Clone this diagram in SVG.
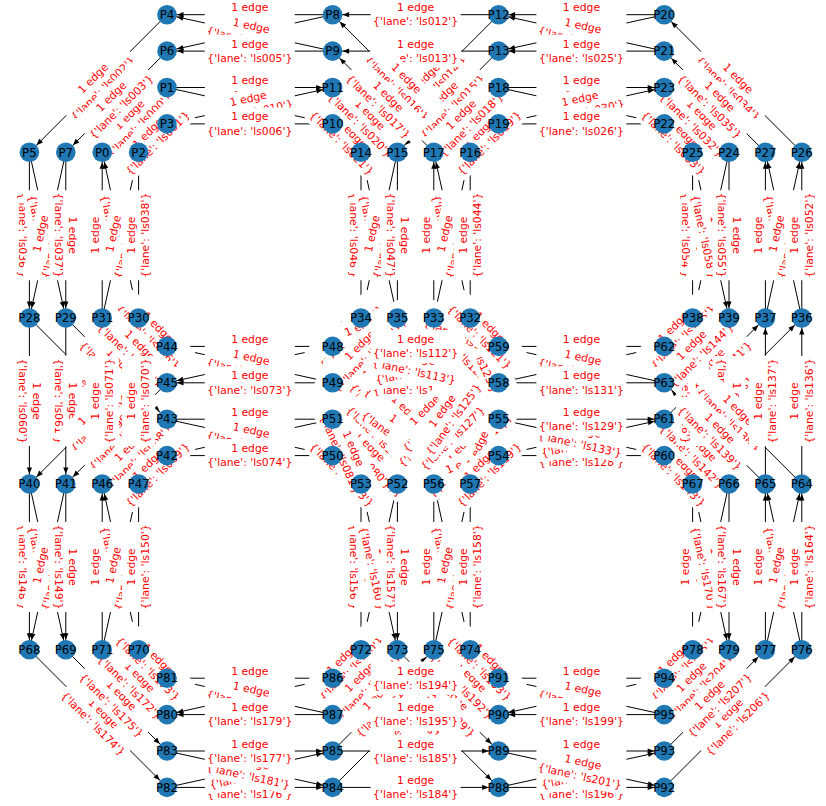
<svg xmlns="http://www.w3.org/2000/svg" width="826" height="806" viewBox="0 0 826 806">
<style>
#edges path{stroke:#000;stroke-width:1;fill:none;marker-end:url(#ah)}
.n circle{fill:#1f78b4}
.n text{font-family:"DejaVu Sans",sans-serif;font-size:11.8px;fill:#000;text-anchor:middle}
.l text{font-family:"DejaVu Sans",sans-serif;font-size:10.8px;fill:#ff0000;text-anchor:middle}
</style>
<defs>
<marker id="ah" markerUnits="userSpaceOnUse" orient="auto" markerWidth="20" markerHeight="20" refX="0" refY="0" overflow="visible"><path d="M-10 0L-16.5-2.6L-16.5 2.6Z" fill="#000"/></marker>
<rect id="bx" x="-45" y="-16.5" width="90" height="33" rx="3.5" fill="#fff"/>
</defs>
<rect width="826" height="806" fill="#fff"/>
<g id="edges">
<path d="M102.2 152.3L167 87.5"/><path d="M167 87.5L332.6 87.5"/><path d="M167 87.5L332.6 123.9"/><path d="M138.6 152.3L167 123.9"/><path d="M167 123.9L332.6 123.9"/><path d="M167 123.9L332.6 87.5"/><path d="M167 14.7L29.4 152.3"/><path d="M29.4 152.3L29.4 318"/><path d="M29.4 152.3L65.8 318"/><path d="M167 51.1L65.8 152.3"/><path d="M65.8 152.3L65.8 318"/><path d="M65.8 152.3L29.4 318"/><path d="M332.6 14.7L167 14.7"/><path d="M332.6 14.7L167 51.1"/><path d="M332.6 51.1L167 51.1"/><path d="M332.6 51.1L167 14.7"/><path d="M332.6 123.9L361 152.3"/><path d="M332.6 123.9L498.6 123.9"/><path d="M332.6 87.5L397.4 152.3"/><path d="M332.6 87.5L498.6 87.5"/><path d="M498.6 14.7L332.6 14.7"/><path d="M498.6 14.7L361 152.3"/><path d="M498.6 51.1L332.6 51.1"/><path d="M498.6 51.1L397.4 152.3"/><path d="M361 152.3L361 318"/><path d="M361 152.3L397.4 318"/><path d="M397.4 152.3L397.4 318"/><path d="M397.4 152.3L361 318"/><path d="M470.2 152.3L332.6 14.7"/><path d="M470.2 152.3L498.6 123.9"/><path d="M433.8 152.3L332.6 51.1"/><path d="M433.8 152.3L498.6 87.5"/><path d="M498.6 87.5L664.2 87.5"/><path d="M498.6 87.5L664.2 123.9"/><path d="M498.6 123.9L664.2 123.9"/><path d="M498.6 123.9L664.2 87.5"/><path d="M664.2 14.7L498.6 14.7"/><path d="M664.2 14.7L498.6 51.1"/><path d="M664.2 51.1L498.6 51.1"/><path d="M664.2 51.1L498.6 14.7"/><path d="M664.2 123.9L692.6 152.3"/><path d="M664.2 87.5L729 152.3"/><path d="M729 152.3L729 318"/><path d="M729 152.3L692.6 318"/><path d="M692.6 152.3L692.6 318"/><path d="M692.6 152.3L729 318"/><path d="M801.8 152.3L664.2 14.7"/><path d="M765.4 152.3L664.2 51.1"/><path d="M29.4 318L29.4 484"/><path d="M29.4 318L167 455.6"/><path d="M65.8 318L65.8 484"/><path d="M65.8 318L167 419.2"/><path d="M138.6 318L138.6 152.3"/><path d="M138.6 318L102.2 152.3"/><path d="M102.2 318L102.2 152.3"/><path d="M102.2 318L138.6 152.3"/><path d="M470.2 318L470.2 152.3"/><path d="M470.2 318L433.8 152.3"/><path d="M433.8 318L433.8 152.3"/><path d="M433.8 318L470.2 152.3"/><path d="M361 318L361 484"/><path d="M361 318L397.4 484"/><path d="M361 318L498.6 455.6"/><path d="M361 318L498.6 419.2"/><path d="M361 318L332.6 346.4"/><path d="M361 318L332.6 382.8"/><path d="M397.4 318L397.4 484"/><path d="M397.4 318L361 484"/><path d="M397.4 318L498.6 455.6"/><path d="M397.4 318L498.6 419.2"/><path d="M397.4 318L332.6 346.4"/><path d="M397.4 318L332.6 382.8"/><path d="M801.8 318L801.8 152.3"/><path d="M801.8 318L765.4 152.3"/><path d="M765.4 318L765.4 152.3"/><path d="M765.4 318L801.8 152.3"/><path d="M692.6 318L664.2 346.4"/><path d="M692.6 318L692.6 484"/><path d="M729 318L664.2 382.8"/><path d="M729 318L729 484"/><path d="M29.4 484L29.4 649.8"/><path d="M29.4 484L65.8 649.8"/><path d="M65.8 484L65.8 649.8"/><path d="M65.8 484L29.4 649.8"/><path d="M167 455.6L332.6 455.6"/><path d="M167 455.6L332.6 419.2"/><path d="M167 419.2L332.6 419.2"/><path d="M167 419.2L332.6 455.6"/><path d="M167 346.4L29.4 484"/><path d="M167 346.4L138.6 318"/><path d="M167 382.8L65.8 484"/><path d="M167 382.8L102.2 318"/><path d="M102.2 484L167 419.2"/><path d="M102.2 484L102.2 318"/><path d="M138.6 484L167 455.6"/><path d="M138.6 484L138.6 318"/><path d="M332.6 346.4L167 346.4"/><path d="M332.6 346.4L167 382.8"/><path d="M332.6 382.8L167 382.8"/><path d="M332.6 382.8L167 346.4"/><path d="M332.6 455.6L397.4 484"/><path d="M332.6 455.6L361 484"/><path d="M332.6 455.6L498.6 455.6"/><path d="M332.6 455.6L498.6 419.2"/><path d="M332.6 455.6L433.8 318"/><path d="M332.6 455.6L470.2 318"/><path d="M332.6 419.2L397.4 484"/><path d="M332.6 419.2L361 484"/><path d="M332.6 419.2L498.6 419.2"/><path d="M332.6 419.2L498.6 455.6"/><path d="M332.6 419.2L433.8 318"/><path d="M332.6 419.2L470.2 318"/><path d="M397.4 484L397.4 649.8"/><path d="M397.4 484L361 649.8"/><path d="M361 484L361 649.8"/><path d="M361 484L397.4 649.8"/><path d="M498.6 455.6L664.2 455.6"/><path d="M498.6 455.6L664.2 419.2"/><path d="M498.6 419.2L664.2 419.2"/><path d="M498.6 419.2L664.2 455.6"/><path d="M433.8 484L433.8 318"/><path d="M433.8 484L470.2 318"/><path d="M433.8 484L332.6 346.4"/><path d="M433.8 484L332.6 382.8"/><path d="M433.8 484L498.6 419.2"/><path d="M433.8 484L498.6 455.6"/><path d="M470.2 484L470.2 318"/><path d="M470.2 484L433.8 318"/><path d="M470.2 484L332.6 346.4"/><path d="M470.2 484L332.6 382.8"/><path d="M470.2 484L498.6 419.2"/><path d="M470.2 484L498.6 455.6"/><path d="M498.6 382.8L332.6 346.4"/><path d="M498.6 382.8L332.6 382.8"/><path d="M498.6 382.8L433.8 318"/><path d="M498.6 382.8L470.2 318"/><path d="M498.6 382.8L361 484"/><path d="M498.6 382.8L397.4 484"/><path d="M498.6 346.4L332.6 346.4"/><path d="M498.6 346.4L332.6 382.8"/><path d="M498.6 346.4L433.8 318"/><path d="M498.6 346.4L470.2 318"/><path d="M498.6 346.4L361 484"/><path d="M498.6 346.4L397.4 484"/><path d="M664.2 455.6L801.8 318"/><path d="M664.2 455.6L692.6 484"/><path d="M664.2 419.2L765.4 318"/><path d="M664.2 419.2L729 484"/><path d="M664.2 346.4L498.6 346.4"/><path d="M664.2 346.4L498.6 382.8"/><path d="M664.2 382.8L498.6 382.8"/><path d="M664.2 382.8L498.6 346.4"/><path d="M801.8 484L801.8 318"/><path d="M801.8 484L664.2 346.4"/><path d="M765.4 484L765.4 318"/><path d="M765.4 484L664.2 382.8"/><path d="M729 484L729 649.8"/><path d="M729 484L692.6 649.8"/><path d="M692.6 484L692.6 649.8"/><path d="M692.6 484L729 649.8"/><path d="M29.4 649.8L167 787.4"/><path d="M65.8 649.8L167 751"/><path d="M138.6 649.8L138.6 484"/><path d="M138.6 649.8L102.2 484"/><path d="M102.2 649.8L102.2 484"/><path d="M102.2 649.8L138.6 484"/><path d="M361 649.8L498.6 787.4"/><path d="M361 649.8L332.6 678.2"/><path d="M397.4 649.8L498.6 751"/><path d="M397.4 649.8L332.6 714.6"/><path d="M470.2 649.8L470.2 484"/><path d="M470.2 649.8L433.8 484"/><path d="M433.8 649.8L433.8 484"/><path d="M433.8 649.8L470.2 484"/><path d="M801.8 649.8L801.8 484"/><path d="M801.8 649.8L765.4 484"/><path d="M765.4 649.8L765.4 484"/><path d="M765.4 649.8L801.8 484"/><path d="M692.6 649.8L664.2 678.2"/><path d="M729 649.8L664.2 714.6"/><path d="M167 714.6L102.2 649.8"/><path d="M167 678.2L138.6 649.8"/><path d="M167 787.4L332.6 787.4"/><path d="M167 787.4L332.6 751"/><path d="M167 751L332.6 751"/><path d="M167 751L332.6 787.4"/><path d="M332.6 787.4L498.6 787.4"/><path d="M332.6 787.4L470.2 649.8"/><path d="M332.6 751L498.6 751"/><path d="M332.6 751L433.8 649.8"/><path d="M332.6 678.2L167 678.2"/><path d="M332.6 678.2L167 714.6"/><path d="M332.6 714.6L167 714.6"/><path d="M332.6 714.6L167 678.2"/><path d="M498.6 787.4L664.2 787.4"/><path d="M498.6 787.4L664.2 751"/><path d="M498.6 751L664.2 751"/><path d="M498.6 751L664.2 787.4"/><path d="M498.6 714.6L433.8 649.8"/><path d="M498.6 714.6L332.6 714.6"/><path d="M498.6 678.2L470.2 649.8"/><path d="M498.6 678.2L332.6 678.2"/><path d="M664.2 787.4L801.8 649.8"/><path d="M664.2 751L765.4 649.8"/><path d="M664.2 678.2L498.6 678.2"/><path d="M664.2 678.2L498.6 714.6"/><path d="M664.2 714.6L498.6 714.6"/><path d="M664.2 714.6L498.6 678.2"/>
</g>
<g id="edge-labels" class="l">
<g transform="translate(134.6 119.9)rotate(-45)"><use href="#bx"/><text y="-3.5">1 edge</text><text y="10.8">{'lane': 'ls000'}</text></g>
<g transform="translate(152.8 138.1)rotate(-45)"><use href="#bx"/><text y="-3.5">1 edge</text><text y="10.8">{'lane': 'ls001'}</text></g>
<g transform="translate(98.2 83.5)rotate(-45)"><use href="#bx"/><text y="-3.5">1 edge</text><text y="10.8">{'lane': 'ls002'}</text></g>
<g transform="translate(116.4 101.7)rotate(-45)"><use href="#bx"/><text y="-3.5">1 edge</text><text y="10.8">{'lane': 'ls003'}</text></g>
<g transform="translate(346.8 138.1)rotate(45)"><use href="#bx"/><text y="-3.5">1 edge</text><text y="10.8">{'lane': 'ls021'}</text></g>
<g transform="translate(415.6 123.9)"><use href="#bx"/><text y="-3.5">1 edge</text><text y="10.8">{'lane': 'ls023'}</text></g>
<g transform="translate(365 119.9)rotate(45)"><use href="#bx"/><text y="-3.5">1 edge</text><text y="10.8">{'lane': 'ls020'}</text></g>
<g transform="translate(415.6 87.5)"><use href="#bx"/><text y="-3.5">1 edge</text><text y="10.8">{'lane': 'ls022'}</text></g>
<g transform="translate(415.6 14.7)"><use href="#bx"/><text y="-3.5">1 edge</text><text y="10.8">{'lane': 'ls012'}</text></g>
<g transform="translate(429.8 83.5)rotate(-45)"><use href="#bx"/><text y="-3.5">1 edge</text><text y="10.8">{'lane': 'ls014'}</text></g>
<g transform="translate(415.6 51.1)"><use href="#bx"/><text y="-3.5">1 edge</text><text y="10.8">{'lane': 'ls013'}</text></g>
<g transform="translate(448 101.7)rotate(-45)"><use href="#bx"/><text y="-3.5">1 edge</text><text y="10.8">{'lane': 'ls015'}</text></g>
<g transform="translate(401.4 83.5)rotate(45)"><use href="#bx"/><text y="-3.5">1 edge</text><text y="10.8">{'lane': 'ls016'}</text></g>
<g transform="translate(484.4 138.1)rotate(-45)"><use href="#bx"/><text y="-3.5">1 edge</text><text y="10.8">{'lane': 'ls019'}</text></g>
<g transform="translate(383.2 101.7)rotate(45)"><use href="#bx"/><text y="-3.5">1 edge</text><text y="10.8">{'lane': 'ls017'}</text></g>
<g transform="translate(466.2 119.9)rotate(-45)"><use href="#bx"/><text y="-3.5">1 edge</text><text y="10.8">{'lane': 'ls018'}</text></g>
<g transform="translate(678.4 138.1)rotate(45)"><use href="#bx"/><text y="-3.5">1 edge</text><text y="10.8">{'lane': 'ls033'}</text></g>
<g transform="translate(696.6 119.9)rotate(45)"><use href="#bx"/><text y="-3.5">1 edge</text><text y="10.8">{'lane': 'ls032'}</text></g>
<g transform="translate(733 83.5)rotate(45)"><use href="#bx"/><text y="-3.5">1 edge</text><text y="10.8">{'lane': 'ls034'}</text></g>
<g transform="translate(714.8 101.7)rotate(45)"><use href="#bx"/><text y="-3.5">1 edge</text><text y="10.8">{'lane': 'ls035'}</text></g>
<g transform="translate(29.4 235.2)rotate(90)"><use href="#bx"/><text y="-3.5">1 edge</text><text y="10.8">{'lane': 'ls036'}</text></g>
<g transform="translate(102.2 235.2)rotate(-90)"><use href="#bx"/><text y="-3.5">1 edge</text><text y="10.8">{'lane': 'ls039'}</text></g>
<g transform="translate(47.6 235.2)rotate(77.6)"><use href="#bx"/><text y="-3.5">1 edge</text><text y="10.8">{'lane': 'ls040'}</text></g>
<g transform="translate(47.6 235.2)rotate(-77.6)"><use href="#bx"/><text y="-3.5">1 edge</text><text y="10.8">{'lane': 'ls041'}</text></g>
<g transform="translate(120.4 235.2)rotate(77.6)"><use href="#bx"/><text y="-3.5">1 edge</text><text y="10.8">{'lane': 'ls042'}</text></g>
<g transform="translate(120.4 235.2)rotate(-77.6)"><use href="#bx"/><text y="-3.5">1 edge</text><text y="10.8">{'lane': 'ls043'}</text></g>
<g transform="translate(65.8 235.2)rotate(90)"><use href="#bx"/><text y="-3.5">1 edge</text><text y="10.8">{'lane': 'ls037'}</text></g>
<g transform="translate(138.6 235.2)rotate(-90)"><use href="#bx"/><text y="-3.5">1 edge</text><text y="10.8">{'lane': 'ls038'}</text></g>
<g transform="translate(361 235.2)rotate(90)"><use href="#bx"/><text y="-3.5">1 edge</text><text y="10.8">{'lane': 'ls046'}</text></g>
<g transform="translate(433.8 235.2)rotate(-90)"><use href="#bx"/><text y="-3.5">1 edge</text><text y="10.8">{'lane': 'ls045'}</text></g>
<g transform="translate(379.2 235.2)rotate(77.6)"><use href="#bx"/><text y="-3.5">1 edge</text><text y="10.8">{'lane': 'ls050'}</text></g>
<g transform="translate(379.2 235.2)rotate(-77.6)"><use href="#bx"/><text y="-3.5">1 edge</text><text y="10.8">{'lane': 'ls051'}</text></g>
<g transform="translate(452 235.2)rotate(77.6)"><use href="#bx"/><text y="-3.5">1 edge</text><text y="10.8">{'lane': 'ls048'}</text></g>
<g transform="translate(452 235.2)rotate(-77.6)"><use href="#bx"/><text y="-3.5">1 edge</text><text y="10.8">{'lane': 'ls049'}</text></g>
<g transform="translate(397.4 235.2)rotate(90)"><use href="#bx"/><text y="-3.5">1 edge</text><text y="10.8">{'lane': 'ls047'}</text></g>
<g transform="translate(470.2 235.2)rotate(-90)"><use href="#bx"/><text y="-3.5">1 edge</text><text y="10.8">{'lane': 'ls044'}</text></g>
<g transform="translate(692.6 235.2)rotate(90)"><use href="#bx"/><text y="-3.5">1 edge</text><text y="10.8">{'lane': 'ls054'}</text></g>
<g transform="translate(765.4 235.2)rotate(-90)"><use href="#bx"/><text y="-3.5">1 edge</text><text y="10.8">{'lane': 'ls053'}</text></g>
<g transform="translate(710.8 235.2)rotate(-77.6)"><use href="#bx"/><text y="-3.5">1 edge</text><text y="10.8">{'lane': 'ls059'}</text></g>
<g transform="translate(710.8 235.2)rotate(77.6)"><use href="#bx"/><text y="-3.5">1 edge</text><text y="10.8">{'lane': 'ls058'}</text></g>
<g transform="translate(783.6 235.2)rotate(77.6)"><use href="#bx"/><text y="-3.5">1 edge</text><text y="10.8">{'lane': 'ls056'}</text></g>
<g transform="translate(783.6 235.2)rotate(-77.6)"><use href="#bx"/><text y="-3.5">1 edge</text><text y="10.8">{'lane': 'ls057'}</text></g>
<g transform="translate(729 235.2)rotate(90)"><use href="#bx"/><text y="-3.5">1 edge</text><text y="10.8">{'lane': 'ls055'}</text></g>
<g transform="translate(801.8 235.2)rotate(-90)"><use href="#bx"/><text y="-3.5">1 edge</text><text y="10.8">{'lane': 'ls052'}</text></g>
<g transform="translate(29.4 401)rotate(90)"><use href="#bx"/><text y="-3.5">1 edge</text><text y="10.8">{'lane': 'ls060'}</text></g>
<g transform="translate(98.2 386.8)rotate(45)"><use href="#bx"/><text y="-3.5">1 edge</text><text y="10.8">{'lane': 'ls062'}</text></g>
<g transform="translate(65.8 401)rotate(90)"><use href="#bx"/><text y="-3.5">1 edge</text><text y="10.8">{'lane': 'ls061'}</text></g>
<g transform="translate(116.4 368.6)rotate(45)"><use href="#bx"/><text y="-3.5">1 edge</text><text y="10.8">{'lane': 'ls063'}</text></g>
<g transform="translate(98.2 415.2)rotate(-45)"><use href="#bx"/><text y="-3.5">1 edge</text><text y="10.8">{'lane': 'ls064'}</text></g>
<g transform="translate(152.8 332.2)rotate(45)"><use href="#bx"/><text y="-3.5">1 edge</text><text y="10.8">{'lane': 'ls066'}</text></g>
<g transform="translate(116.4 433.4)rotate(-45)"><use href="#bx"/><text y="-3.5">1 edge</text><text y="10.8">{'lane': 'ls065'}</text></g>
<g transform="translate(134.6 350.4)rotate(45)"><use href="#bx"/><text y="-3.5">1 edge</text><text y="10.8">{'lane': 'ls067'}</text></g>
<g transform="translate(134.6 451.6)rotate(-45)"><use href="#bx"/><text y="-3.5">1 edge</text><text y="10.8">{'lane': 'ls068'}</text></g>
<g transform="translate(102.2 401)rotate(-90)"><use href="#bx"/><text y="-3.5">1 edge</text><text y="10.8">{'lane': 'ls071'}</text></g>
<g transform="translate(152.8 469.8)rotate(-45)"><use href="#bx"/><text y="-3.5">1 edge</text><text y="10.8">{'lane': 'ls069'}</text></g>
<g transform="translate(138.6 401)rotate(-90)"><use href="#bx"/><text y="-3.5">1 edge</text><text y="10.8">{'lane': 'ls070'}</text></g>
<g transform="translate(361 401)rotate(90)"><use href="#bx"/><text y="-3.5">1 edge</text><text y="10.8">{'lane': 'ls084'}</text></g>
<g transform="translate(379.2 401)rotate(77.6)"><use href="#bx"/><text y="-3.5">1 edge</text><text y="10.8">{'lane': 'ls086'}</text></g>
<g transform="translate(429.8 386.8)rotate(45)"><use href="#bx"/><text y="-3.5">1 edge</text><text y="10.8">{'lane': 'ls092'}</text></g>
<g transform="translate(429.8 368.6)rotate(36.3)"><use href="#bx"/><text y="-3.5">1 edge</text><text y="10.8">{'lane': 'ls093'}</text></g>
<g transform="translate(346.8 332.2)rotate(-45)"><use href="#bx"/><text y="-3.5">1 edge</text><text y="10.8">{'lane': 'ls096'}</text></g>
<g transform="translate(346.8 350.4)rotate(-66.3)"><use href="#bx"/><text y="-3.5">1 edge</text><text y="10.8">{'lane': 'ls097'}</text></g>
<g transform="translate(397.4 401)rotate(90)"><use href="#bx"/><text y="-3.5">1 edge</text><text y="10.8">{'lane': 'ls085'}</text></g>
<g transform="translate(379.2 401)rotate(-77.6)"><use href="#bx"/><text y="-3.5">1 edge</text><text y="10.8">{'lane': 'ls087'}</text></g>
<g transform="translate(448 386.8)rotate(53.7)"><use href="#bx"/><text y="-3.5">1 edge</text><text y="10.8">{'lane': 'ls094'}</text></g>
<g transform="translate(448 368.6)rotate(45)"><use href="#bx"/><text y="-3.5">1 edge</text><text y="10.8">{'lane': 'ls095'}</text></g>
<g transform="translate(365 332.2)rotate(-23.7)"><use href="#bx"/><text y="-3.5">1 edge</text><text y="10.8">{'lane': 'ls098'}</text></g>
<g transform="translate(365 350.4)rotate(-45)"><use href="#bx"/><text y="-3.5">1 edge</text><text y="10.8">{'lane': 'ls099'}</text></g>
<g transform="translate(365 469.8)rotate(23.7)"><use href="#bx"/><text y="-3.5">1 edge</text><text y="10.8">{'lane': 'ls082'}</text></g>
<g transform="translate(346.8 469.8)rotate(45)"><use href="#bx"/><text y="-3.5">1 edge</text><text y="10.8">{'lane': 'ls083'}</text></g>
<g transform="translate(415.6 455.6)"><use href="#bx"/><text y="-3.5">1 edge</text><text y="10.8">{'lane': 'ls089'}</text></g>
<g transform="translate(415.6 437.4)rotate(-12.4)"><use href="#bx"/><text y="-3.5">1 edge</text><text y="10.8">{'lane': 'ls091'}</text></g>
<g transform="translate(383.2 386.8)rotate(-53.7)"><use href="#bx"/><text y="-3.5">1 edge</text><text y="10.8">{'lane': 'ls102'}</text></g>
<g transform="translate(401.4 386.8)rotate(-45)"><use href="#bx"/><text y="-3.5">1 edge</text><text y="10.8">{'lane': 'ls103'}</text></g>
<g transform="translate(365 451.6)rotate(45)"><use href="#bx"/><text y="-3.5">1 edge</text><text y="10.8">{'lane': 'ls080'}</text></g>
<g transform="translate(346.8 451.6)rotate(66.3)"><use href="#bx"/><text y="-3.5">1 edge</text><text y="10.8">{'lane': 'ls081'}</text></g>
<g transform="translate(415.6 419.2)"><use href="#bx"/><text y="-3.5">1 edge</text><text y="10.8">{'lane': 'ls088'}</text></g>
<g transform="translate(415.6 437.4)rotate(12.4)"><use href="#bx"/><text y="-3.5">1 edge</text><text y="10.8">{'lane': 'ls090'}</text></g>
<g transform="translate(383.2 368.6)rotate(-45)"><use href="#bx"/><text y="-3.5">1 edge</text><text y="10.8">{'lane': 'ls100'}</text></g>
<g transform="translate(401.4 368.6)rotate(-36.3)"><use href="#bx"/><text y="-3.5">1 edge</text><text y="10.8">{'lane': 'ls101'}</text></g>
<g transform="translate(433.8 401)rotate(-90)"><use href="#bx"/><text y="-3.5">1 edge</text><text y="10.8">{'lane': 'ls104'}</text></g>
<g transform="translate(452 401)rotate(-77.6)"><use href="#bx"/><text y="-3.5">1 edge</text><text y="10.8">{'lane': 'ls106'}</text></g>
<g transform="translate(383.2 415.2)rotate(53.7)"><use href="#bx"/><text y="-3.5">1 edge</text><text y="10.8">{'lane': 'ls108'}</text></g>
<g transform="translate(383.2 433.4)rotate(45)"><use href="#bx"/><text y="-3.5">1 edge</text><text y="10.8">{'lane': 'ls109'}</text></g>
<g transform="translate(466.2 451.6)rotate(-45)"><use href="#bx"/><text y="-3.5">1 edge</text><text y="10.8">{'lane': 'ls116'}</text></g>
<g transform="translate(466.2 469.8)rotate(-23.7)"><use href="#bx"/><text y="-3.5">1 edge</text><text y="10.8">{'lane': 'ls117'}</text></g>
<g transform="translate(470.2 401)rotate(-90)"><use href="#bx"/><text y="-3.5">1 edge</text><text y="10.8">{'lane': 'ls105'}</text></g>
<g transform="translate(452 401)rotate(77.6)"><use href="#bx"/><text y="-3.5">1 edge</text><text y="10.8">{'lane': 'ls107'}</text></g>
<g transform="translate(401.4 415.2)rotate(45)"><use href="#bx"/><text y="-3.5">1 edge</text><text y="10.8">{'lane': 'ls110'}</text></g>
<g transform="translate(401.4 433.4)rotate(36.3)"><use href="#bx"/><text y="-3.5">1 edge</text><text y="10.8">{'lane': 'ls111'}</text></g>
<g transform="translate(484.4 451.6)rotate(-66.3)"><use href="#bx"/><text y="-3.5">1 edge</text><text y="10.8">{'lane': 'ls118'}</text></g>
<g transform="translate(484.4 469.8)rotate(-45)"><use href="#bx"/><text y="-3.5">1 edge</text><text y="10.8">{'lane': 'ls119'}</text></g>
<g transform="translate(415.6 382.8)"><use href="#bx"/><text y="-3.5">1 edge</text><text y="10.8">{'lane': 'ls115'}</text></g>
<g transform="translate(466.2 350.4)rotate(45)"><use href="#bx"/><text y="-3.5">1 edge</text><text y="10.8">{'lane': 'ls122'}</text></g>
<g transform="translate(484.4 350.4)rotate(66.3)"><use href="#bx"/><text y="-3.5">1 edge</text><text y="10.8">{'lane': 'ls123'}</text></g>
<g transform="translate(429.8 433.4)rotate(-36.3)"><use href="#bx"/><text y="-3.5">1 edge</text><text y="10.8">{'lane': 'ls126'}</text></g>
<g transform="translate(448 433.4)rotate(-45)"><use href="#bx"/><text y="-3.5">1 edge</text><text y="10.8">{'lane': 'ls127'}</text></g>
<g transform="translate(466.2 332.2)rotate(23.7)"><use href="#bx"/><text y="-3.5">1 edge</text><text y="10.8">{'lane': 'ls120'}</text></g>
<g transform="translate(484.4 332.2)rotate(45)"><use href="#bx"/><text y="-3.5">1 edge</text><text y="10.8">{'lane': 'ls121'}</text></g>
<g transform="translate(429.8 415.2)rotate(-45)"><use href="#bx"/><text y="-3.5">1 edge</text><text y="10.8">{'lane': 'ls124'}</text></g>
<g transform="translate(448 415.2)rotate(-53.7)"><use href="#bx"/><text y="-3.5">1 edge</text><text y="10.8">{'lane': 'ls125'}</text></g>
<g transform="translate(415.6 364.6)rotate(-12.4)"><use href="#bx"/><text y="-3.5">1 edge</text><text y="10.8">{'lane': 'ls114'}</text></g>
<g transform="translate(415.6 364.6)rotate(12.4)"><use href="#bx"/><text y="-3.5">1 edge</text><text y="10.8">{'lane': 'ls113'}</text></g>
<g transform="translate(415.6 346.4)"><use href="#bx"/><text y="-3.5">1 edge</text><text y="10.8">{'lane': 'ls112'}</text></g>
<g transform="translate(733 386.8)rotate(-45)"><use href="#bx"/><text y="-3.5">1 edge</text><text y="10.8">{'lane': 'ls140'}</text></g>
<g transform="translate(678.4 469.8)rotate(45)"><use href="#bx"/><text y="-3.5">1 edge</text><text y="10.8">{'lane': 'ls143'}</text></g>
<g transform="translate(714.8 368.6)rotate(-45)"><use href="#bx"/><text y="-3.5">1 edge</text><text y="10.8">{'lane': 'ls141'}</text></g>
<g transform="translate(696.6 451.6)rotate(45)"><use href="#bx"/><text y="-3.5">1 edge</text><text y="10.8">{'lane': 'ls142'}</text></g>
<g transform="translate(678.4 332.2)rotate(-45)"><use href="#bx"/><text y="-3.5">1 edge</text><text y="10.8">{'lane': 'ls145'}</text></g>
<g transform="translate(692.6 401)rotate(90)"><use href="#bx"/><text y="-3.5">1 edge</text><text y="10.8">{'lane': 'ls146'}</text></g>
<g transform="translate(696.6 350.4)rotate(-45)"><use href="#bx"/><text y="-3.5">1 edge</text><text y="10.8">{'lane': 'ls144'}</text></g>
<g transform="translate(729 401)rotate(90)"><use href="#bx"/><text y="-3.5">1 edge</text><text y="10.8">{'lane': 'ls147'}</text></g>
<g transform="translate(801.8 401)rotate(-90)"><use href="#bx"/><text y="-3.5">1 edge</text><text y="10.8">{'lane': 'ls136'}</text></g>
<g transform="translate(733 415.2)rotate(45)"><use href="#bx"/><text y="-3.5">1 edge</text><text y="10.8">{'lane': 'ls138'}</text></g>
<g transform="translate(765.4 401)rotate(-90)"><use href="#bx"/><text y="-3.5">1 edge</text><text y="10.8">{'lane': 'ls137'}</text></g>
<g transform="translate(714.8 433.4)rotate(45)"><use href="#bx"/><text y="-3.5">1 edge</text><text y="10.8">{'lane': 'ls139'}</text></g>
<g transform="translate(29.4 566.9)rotate(90)"><use href="#bx"/><text y="-3.5">1 edge</text><text y="10.8">{'lane': 'ls148'}</text></g>
<g transform="translate(102.2 566.9)rotate(-90)"><use href="#bx"/><text y="-3.5">1 edge</text><text y="10.8">{'lane': 'ls151'}</text></g>
<g transform="translate(47.6 566.9)rotate(77.6)"><use href="#bx"/><text y="-3.5">1 edge</text><text y="10.8">{'lane': 'ls152'}</text></g>
<g transform="translate(47.6 566.9)rotate(-77.6)"><use href="#bx"/><text y="-3.5">1 edge</text><text y="10.8">{'lane': 'ls153'}</text></g>
<g transform="translate(120.4 566.9)rotate(77.6)"><use href="#bx"/><text y="-3.5">1 edge</text><text y="10.8">{'lane': 'ls154'}</text></g>
<g transform="translate(120.4 566.9)rotate(-77.6)"><use href="#bx"/><text y="-3.5">1 edge</text><text y="10.8">{'lane': 'ls155'}</text></g>
<g transform="translate(65.8 566.9)rotate(90)"><use href="#bx"/><text y="-3.5">1 edge</text><text y="10.8">{'lane': 'ls149'}</text></g>
<g transform="translate(138.6 566.9)rotate(-90)"><use href="#bx"/><text y="-3.5">1 edge</text><text y="10.8">{'lane': 'ls150'}</text></g>
<g transform="translate(361 566.9)rotate(90)"><use href="#bx"/><text y="-3.5">1 edge</text><text y="10.8">{'lane': 'ls156'}</text></g>
<g transform="translate(433.8 566.9)rotate(-90)"><use href="#bx"/><text y="-3.5">1 edge</text><text y="10.8">{'lane': 'ls159'}</text></g>
<g transform="translate(379.2 566.9)rotate(-77.6)"><use href="#bx"/><text y="-3.5">1 edge</text><text y="10.8">{'lane': 'ls161'}</text></g>
<g transform="translate(379.2 566.9)rotate(77.6)"><use href="#bx"/><text y="-3.5">1 edge</text><text y="10.8">{'lane': 'ls160'}</text></g>
<g transform="translate(452 566.9)rotate(77.6)"><use href="#bx"/><text y="-3.5">1 edge</text><text y="10.8">{'lane': 'ls162'}</text></g>
<g transform="translate(452 566.9)rotate(-77.6)"><use href="#bx"/><text y="-3.5">1 edge</text><text y="10.8">{'lane': 'ls163'}</text></g>
<g transform="translate(397.4 566.9)rotate(90)"><use href="#bx"/><text y="-3.5">1 edge</text><text y="10.8">{'lane': 'ls157'}</text></g>
<g transform="translate(470.2 566.9)rotate(-90)"><use href="#bx"/><text y="-3.5">1 edge</text><text y="10.8">{'lane': 'ls158'}</text></g>
<g transform="translate(692.6 566.9)rotate(-90)"><use href="#bx"/><text y="-3.5">1 edge</text><text y="10.8">{'lane': 'ls166'}</text></g>
<g transform="translate(765.4 566.9)rotate(-90)"><use href="#bx"/><text y="-3.5">1 edge</text><text y="10.8">{'lane': 'ls165'}</text></g>
<g transform="translate(710.8 566.9)rotate(-77.6)"><use href="#bx"/><text y="-3.5">1 edge</text><text y="10.8">{'lane': 'ls171'}</text></g>
<g transform="translate(710.8 566.9)rotate(77.6)"><use href="#bx"/><text y="-3.5">1 edge</text><text y="10.8">{'lane': 'ls170'}</text></g>
<g transform="translate(783.6 566.9)rotate(77.6)"><use href="#bx"/><text y="-3.5">1 edge</text><text y="10.8">{'lane': 'ls168'}</text></g>
<g transform="translate(783.6 566.9)rotate(-77.6)"><use href="#bx"/><text y="-3.5">1 edge</text><text y="10.8">{'lane': 'ls169'}</text></g>
<g transform="translate(729 566.9)rotate(90)"><use href="#bx"/><text y="-3.5">1 edge</text><text y="10.8">{'lane': 'ls167'}</text></g>
<g transform="translate(801.8 566.9)rotate(-90)"><use href="#bx"/><text y="-3.5">1 edge</text><text y="10.8">{'lane': 'ls164'}</text></g>
<g transform="translate(98.2 718.6)rotate(45)"><use href="#bx"/><text y="-3.5">1 edge</text><text y="10.8">{'lane': 'ls174'}</text></g>
<g transform="translate(116.4 700.4)rotate(45)"><use href="#bx"/><text y="-3.5">1 edge</text><text y="10.8">{'lane': 'ls175'}</text></g>
<g transform="translate(134.6 682.2)rotate(45)"><use href="#bx"/><text y="-3.5">1 edge</text><text y="10.8">{'lane': 'ls172'}</text></g>
<g transform="translate(152.8 664)rotate(45)"><use href="#bx"/><text y="-3.5">1 edge</text><text y="10.8">{'lane': 'ls173'}</text></g>
<g transform="translate(429.8 718.6)rotate(45)"><use href="#bx"/><text y="-3.5">1 edge</text><text y="10.8">{'lane': 'ls188'}</text></g>
<g transform="translate(346.8 664)rotate(-45)"><use href="#bx"/><text y="-3.5">1 edge</text><text y="10.8">{'lane': 'ls190'}</text></g>
<g transform="translate(448 700.4)rotate(45)"><use href="#bx"/><text y="-3.5">1 edge</text><text y="10.8">{'lane': 'ls189'}</text></g>
<g transform="translate(365 682.2)rotate(-45)"><use href="#bx"/><text y="-3.5">1 edge</text><text y="10.8">{'lane': 'ls191'}</text></g>
<g transform="translate(678.4 664)rotate(-45)"><use href="#bx"/><text y="-3.5">1 edge</text><text y="10.8">{'lane': 'ls205'}</text></g>
<g transform="translate(696.6 682.2)rotate(-45)"><use href="#bx"/><text y="-3.5">1 edge</text><text y="10.8">{'lane': 'ls204'}</text></g>
<g transform="translate(415.6 787.4)"><use href="#bx"/><text y="-3.5">1 edge</text><text y="10.8">{'lane': 'ls184'}</text></g>
<g transform="translate(401.4 718.6)rotate(-45)"><use href="#bx"/><text y="-3.5">1 edge</text><text y="10.8">{'lane': 'ls186'}</text></g>
<g transform="translate(415.6 751)"><use href="#bx"/><text y="-3.5">1 edge</text><text y="10.8">{'lane': 'ls185'}</text></g>
<g transform="translate(383.2 700.4)rotate(-45)"><use href="#bx"/><text y="-3.5">1 edge</text><text y="10.8">{'lane': 'ls187'}</text></g>
<g transform="translate(466.2 682.2)rotate(45)"><use href="#bx"/><text y="-3.5">1 edge</text><text y="10.8">{'lane': 'ls192'}</text></g>
<g transform="translate(415.6 714.6)"><use href="#bx"/><text y="-3.5">1 edge</text><text y="10.8">{'lane': 'ls195'}</text></g>
<g transform="translate(484.4 664)rotate(45)"><use href="#bx"/><text y="-3.5">1 edge</text><text y="10.8">{'lane': 'ls193'}</text></g>
<g transform="translate(415.6 678.2)"><use href="#bx"/><text y="-3.5">1 edge</text><text y="10.8">{'lane': 'ls194'}</text></g>
<g transform="translate(733 718.6)rotate(-45)"><use href="#bx"/><text y="-3.5">1 edge</text><text y="10.8">{'lane': 'ls206'}</text></g>
<g transform="translate(714.8 700.4)rotate(-45)"><use href="#bx"/><text y="-3.5">1 edge</text><text y="10.8">{'lane': 'ls207'}</text></g>
<g transform="translate(249.8 14.7)"><use href="#bx"/><text y="-3.5">1 edge</text><text y="10.8">{'lane': 'ls004'}</text></g>
<g transform="translate(249.8 87.5)"><use href="#bx"/><text y="-3.5">1 edge</text><text y="10.8">{'lane': 'ls007'}</text></g>
<g transform="translate(249.8 32.9)rotate(-12.4)"><use href="#bx"/><text y="-3.5">1 edge</text><text y="10.8">{'lane': 'ls008'}</text></g>
<g transform="translate(249.8 32.9)rotate(12.4)"><use href="#bx"/><text y="-3.5">1 edge</text><text y="10.8">{'lane': 'ls009'}</text></g>
<g transform="translate(249.8 105.7)rotate(12.4)"><use href="#bx"/><text y="-3.5">1 edge</text><text y="10.8">{'lane': 'ls011'}</text></g>
<g transform="translate(249.8 105.7)rotate(-12.4)"><use href="#bx"/><text y="-3.5">1 edge</text><text y="10.8">{'lane': 'ls010'}</text></g>
<g transform="translate(249.8 51.1)"><use href="#bx"/><text y="-3.5">1 edge</text><text y="10.8">{'lane': 'ls005'}</text></g>
<g transform="translate(249.8 123.9)"><use href="#bx"/><text y="-3.5">1 edge</text><text y="10.8">{'lane': 'ls006'}</text></g>
<g transform="translate(581.4 14.7)"><use href="#bx"/><text y="-3.5">1 edge</text><text y="10.8">{'lane': 'ls024'}</text></g>
<g transform="translate(581.4 87.5)"><use href="#bx"/><text y="-3.5">1 edge</text><text y="10.8">{'lane': 'ls027'}</text></g>
<g transform="translate(581.4 32.9)rotate(-12.4)"><use href="#bx"/><text y="-3.5">1 edge</text><text y="10.8">{'lane': 'ls028'}</text></g>
<g transform="translate(581.4 32.9)rotate(12.4)"><use href="#bx"/><text y="-3.5">1 edge</text><text y="10.8">{'lane': 'ls029'}</text></g>
<g transform="translate(581.4 105.7)rotate(12.4)"><use href="#bx"/><text y="-3.5">1 edge</text><text y="10.8">{'lane': 'ls031'}</text></g>
<g transform="translate(581.4 105.7)rotate(-12.4)"><use href="#bx"/><text y="-3.5">1 edge</text><text y="10.8">{'lane': 'ls030'}</text></g>
<g transform="translate(581.4 51.1)"><use href="#bx"/><text y="-3.5">1 edge</text><text y="10.8">{'lane': 'ls025'}</text></g>
<g transform="translate(581.4 123.9)"><use href="#bx"/><text y="-3.5">1 edge</text><text y="10.8">{'lane': 'ls026'}</text></g>
<g transform="translate(249.8 346.4)"><use href="#bx"/><text y="-3.5">1 edge</text><text y="10.8">{'lane': 'ls072'}</text></g>
<g transform="translate(249.8 419.2)"><use href="#bx"/><text y="-3.5">1 edge</text><text y="10.8">{'lane': 'ls075'}</text></g>
<g transform="translate(249.8 364.6)rotate(-12.4)"><use href="#bx"/><text y="-3.5">1 edge</text><text y="10.8">{'lane': 'ls076'}</text></g>
<g transform="translate(249.8 364.6)rotate(12.4)"><use href="#bx"/><text y="-3.5">1 edge</text><text y="10.8">{'lane': 'ls077'}</text></g>
<g transform="translate(249.8 437.4)rotate(-12.4)"><use href="#bx"/><text y="-3.5">1 edge</text><text y="10.8">{'lane': 'ls078'}</text></g>
<g transform="translate(249.8 437.4)rotate(12.4)"><use href="#bx"/><text y="-3.5">1 edge</text><text y="10.8">{'lane': 'ls079'}</text></g>
<g transform="translate(249.8 382.8)"><use href="#bx"/><text y="-3.5">1 edge</text><text y="10.8">{'lane': 'ls073'}</text></g>
<g transform="translate(249.8 455.6)"><use href="#bx"/><text y="-3.5">1 edge</text><text y="10.8">{'lane': 'ls074'}</text></g>
<g transform="translate(581.4 346.4)"><use href="#bx"/><text y="-3.5">1 edge</text><text y="10.8">{'lane': 'ls130'}</text></g>
<g transform="translate(581.4 455.6)"><use href="#bx"/><text y="-3.5">1 edge</text><text y="10.8">{'lane': 'ls128'}</text></g>
<g transform="translate(581.4 364.6)rotate(-12.4)"><use href="#bx"/><text y="-3.5">1 edge</text><text y="10.8">{'lane': 'ls134'}</text></g>
<g transform="translate(581.4 364.6)rotate(12.4)"><use href="#bx"/><text y="-3.5">1 edge</text><text y="10.8">{'lane': 'ls135'}</text></g>
<g transform="translate(581.4 437.4)rotate(-12.4)"><use href="#bx"/><text y="-3.5">1 edge</text><text y="10.8">{'lane': 'ls132'}</text></g>
<g transform="translate(581.4 437.4)rotate(12.4)"><use href="#bx"/><text y="-3.5">1 edge</text><text y="10.8">{'lane': 'ls133'}</text></g>
<g transform="translate(581.4 382.8)"><use href="#bx"/><text y="-3.5">1 edge</text><text y="10.8">{'lane': 'ls131'}</text></g>
<g transform="translate(581.4 419.2)"><use href="#bx"/><text y="-3.5">1 edge</text><text y="10.8">{'lane': 'ls129'}</text></g>
<g transform="translate(249.8 678.2)"><use href="#bx"/><text y="-3.5">1 edge</text><text y="10.8">{'lane': 'ls178'}</text></g>
<g transform="translate(249.8 787.4)"><use href="#bx"/><text y="-3.5">1 edge</text><text y="10.8">{'lane': 'ls176'}</text></g>
<g transform="translate(249.8 696.4)rotate(-12.4)"><use href="#bx"/><text y="-3.5">1 edge</text><text y="10.8">{'lane': 'ls182'}</text></g>
<g transform="translate(249.8 696.4)rotate(12.4)"><use href="#bx"/><text y="-3.5">1 edge</text><text y="10.8">{'lane': 'ls183'}</text></g>
<g transform="translate(249.8 769.2)rotate(-12.4)"><use href="#bx"/><text y="-3.5">1 edge</text><text y="10.8">{'lane': 'ls180'}</text></g>
<g transform="translate(249.8 769.2)rotate(12.4)"><use href="#bx"/><text y="-3.5">1 edge</text><text y="10.8">{'lane': 'ls181'}</text></g>
<g transform="translate(249.8 714.6)"><use href="#bx"/><text y="-3.5">1 edge</text><text y="10.8">{'lane': 'ls179'}</text></g>
<g transform="translate(249.8 751)"><use href="#bx"/><text y="-3.5">1 edge</text><text y="10.8">{'lane': 'ls177'}</text></g>
<g transform="translate(581.4 678.2)"><use href="#bx"/><text y="-3.5">1 edge</text><text y="10.8">{'lane': 'ls198'}</text></g>
<g transform="translate(581.4 751)"><use href="#bx"/><text y="-3.5">1 edge</text><text y="10.8">{'lane': 'ls197'}</text></g>
<g transform="translate(581.4 787.4)"><use href="#bx"/><text y="-3.5">1 edge</text><text y="10.8">{'lane': 'ls196'}</text></g>
<g transform="translate(581.4 696.4)rotate(-12.4)"><use href="#bx"/><text y="-3.5">1 edge</text><text y="10.8">{'lane': 'ls202'}</text></g>
<g transform="translate(581.4 696.4)rotate(12.4)"><use href="#bx"/><text y="-3.5">1 edge</text><text y="10.8">{'lane': 'ls203'}</text></g>
<g transform="translate(581.4 769.2)rotate(-12.4)"><use href="#bx"/><text y="-3.5">1 edge</text><text y="10.8">{'lane': 'ls200'}</text></g>
<g transform="translate(581.4 769.2)rotate(12.4)"><use href="#bx"/><text y="-3.5">1 edge</text><text y="10.8">{'lane': 'ls201'}</text></g>
<g transform="translate(581.4 714.6)"><use href="#bx"/><text y="-3.5">1 edge</text><text y="10.8">{'lane': 'ls199'}</text></g>
</g>
<g id="nodes">
<g id="P0" class="n"><circle cx="102.2" cy="152.3" r="9.8"/><text x="102.2" y="156.5">P0</text></g>
<g id="P1" class="n"><circle cx="167" cy="87.5" r="9.8"/><text x="167" y="91.7">P1</text></g>
<g id="P2" class="n"><circle cx="138.6" cy="152.3" r="9.8"/><text x="138.6" y="156.5">P2</text></g>
<g id="P3" class="n"><circle cx="167" cy="123.9" r="9.8"/><text x="167" y="128.1">P3</text></g>
<g id="P4" class="n"><circle cx="167" cy="14.7" r="9.8"/><text x="167" y="18.9">P4</text></g>
<g id="P5" class="n"><circle cx="29.4" cy="152.3" r="9.8"/><text x="29.4" y="156.5">P5</text></g>
<g id="P6" class="n"><circle cx="167" cy="51.1" r="9.8"/><text x="167" y="55.3">P6</text></g>
<g id="P7" class="n"><circle cx="65.8" cy="152.3" r="9.8"/><text x="65.8" y="156.5">P7</text></g>
<g id="P8" class="n"><circle cx="332.6" cy="14.7" r="9.8"/><text x="332.6" y="18.9">P8</text></g>
<g id="P9" class="n"><circle cx="332.6" cy="51.1" r="9.8"/><text x="332.6" y="55.3">P9</text></g>
<g id="P10" class="n"><circle cx="332.6" cy="123.9" r="9.8"/><text x="332.6" y="128.1">P10</text></g>
<g id="P11" class="n"><circle cx="332.6" cy="87.5" r="9.8"/><text x="332.6" y="91.7">P11</text></g>
<g id="P12" class="n"><circle cx="498.6" cy="14.7" r="9.8"/><text x="498.6" y="18.9">P12</text></g>
<g id="P13" class="n"><circle cx="498.6" cy="51.1" r="9.8"/><text x="498.6" y="55.3">P13</text></g>
<g id="P14" class="n"><circle cx="361" cy="152.3" r="9.8"/><text x="361" y="156.5">P14</text></g>
<g id="P15" class="n"><circle cx="397.4" cy="152.3" r="9.8"/><text x="397.4" y="156.5">P15</text></g>
<g id="P16" class="n"><circle cx="470.2" cy="152.3" r="9.8"/><text x="470.2" y="156.5">P16</text></g>
<g id="P17" class="n"><circle cx="433.8" cy="152.3" r="9.8"/><text x="433.8" y="156.5">P17</text></g>
<g id="P18" class="n"><circle cx="498.6" cy="87.5" r="9.8"/><text x="498.6" y="91.7">P18</text></g>
<g id="P19" class="n"><circle cx="498.6" cy="123.9" r="9.8"/><text x="498.6" y="128.1">P19</text></g>
<g id="P20" class="n"><circle cx="664.2" cy="14.7" r="9.8"/><text x="664.2" y="18.9">P20</text></g>
<g id="P21" class="n"><circle cx="664.2" cy="51.1" r="9.8"/><text x="664.2" y="55.3">P21</text></g>
<g id="P22" class="n"><circle cx="664.2" cy="123.9" r="9.8"/><text x="664.2" y="128.1">P22</text></g>
<g id="P23" class="n"><circle cx="664.2" cy="87.5" r="9.8"/><text x="664.2" y="91.7">P23</text></g>
<g id="P24" class="n"><circle cx="729" cy="152.3" r="9.8"/><text x="729" y="156.5">P24</text></g>
<g id="P25" class="n"><circle cx="692.6" cy="152.3" r="9.8"/><text x="692.6" y="156.5">P25</text></g>
<g id="P26" class="n"><circle cx="801.8" cy="152.3" r="9.8"/><text x="801.8" y="156.5">P26</text></g>
<g id="P27" class="n"><circle cx="765.4" cy="152.3" r="9.8"/><text x="765.4" y="156.5">P27</text></g>
<g id="P28" class="n"><circle cx="29.4" cy="318" r="9.8"/><text x="29.4" y="322.2">P28</text></g>
<g id="P29" class="n"><circle cx="65.8" cy="318" r="9.8"/><text x="65.8" y="322.2">P29</text></g>
<g id="P30" class="n"><circle cx="138.6" cy="318" r="9.8"/><text x="138.6" y="322.2">P30</text></g>
<g id="P31" class="n"><circle cx="102.2" cy="318" r="9.8"/><text x="102.2" y="322.2">P31</text></g>
<g id="P32" class="n"><circle cx="470.2" cy="318" r="9.8"/><text x="470.2" y="322.2">P32</text></g>
<g id="P33" class="n"><circle cx="433.8" cy="318" r="9.8"/><text x="433.8" y="322.2">P33</text></g>
<g id="P34" class="n"><circle cx="361" cy="318" r="9.8"/><text x="361" y="322.2">P34</text></g>
<g id="P35" class="n"><circle cx="397.4" cy="318" r="9.8"/><text x="397.4" y="322.2">P35</text></g>
<g id="P36" class="n"><circle cx="801.8" cy="318" r="9.8"/><text x="801.8" y="322.2">P36</text></g>
<g id="P37" class="n"><circle cx="765.4" cy="318" r="9.8"/><text x="765.4" y="322.2">P37</text></g>
<g id="P38" class="n"><circle cx="692.6" cy="318" r="9.8"/><text x="692.6" y="322.2">P38</text></g>
<g id="P39" class="n"><circle cx="729" cy="318" r="9.8"/><text x="729" y="322.2">P39</text></g>
<g id="P40" class="n"><circle cx="29.4" cy="484" r="9.8"/><text x="29.4" y="488.2">P40</text></g>
<g id="P41" class="n"><circle cx="65.8" cy="484" r="9.8"/><text x="65.8" y="488.2">P41</text></g>
<g id="P42" class="n"><circle cx="167" cy="455.6" r="9.8"/><text x="167" y="459.8">P42</text></g>
<g id="P43" class="n"><circle cx="167" cy="419.2" r="9.8"/><text x="167" y="423.4">P43</text></g>
<g id="P44" class="n"><circle cx="167" cy="346.4" r="9.8"/><text x="167" y="350.6">P44</text></g>
<g id="P45" class="n"><circle cx="167" cy="382.8" r="9.8"/><text x="167" y="387">P45</text></g>
<g id="P46" class="n"><circle cx="102.2" cy="484" r="9.8"/><text x="102.2" y="488.2">P46</text></g>
<g id="P47" class="n"><circle cx="138.6" cy="484" r="9.8"/><text x="138.6" y="488.2">P47</text></g>
<g id="P48" class="n"><circle cx="332.6" cy="346.4" r="9.8"/><text x="332.6" y="350.6">P48</text></g>
<g id="P49" class="n"><circle cx="332.6" cy="382.8" r="9.8"/><text x="332.6" y="387">P49</text></g>
<g id="P50" class="n"><circle cx="332.6" cy="455.6" r="9.8"/><text x="332.6" y="459.8">P50</text></g>
<g id="P51" class="n"><circle cx="332.6" cy="419.2" r="9.8"/><text x="332.6" y="423.4">P51</text></g>
<g id="P52" class="n"><circle cx="397.4" cy="484" r="9.8"/><text x="397.4" y="488.2">P52</text></g>
<g id="P53" class="n"><circle cx="361" cy="484" r="9.8"/><text x="361" y="488.2">P53</text></g>
<g id="P54" class="n"><circle cx="498.6" cy="455.6" r="9.8"/><text x="498.6" y="459.8">P54</text></g>
<g id="P55" class="n"><circle cx="498.6" cy="419.2" r="9.8"/><text x="498.6" y="423.4">P55</text></g>
<g id="P56" class="n"><circle cx="433.8" cy="484" r="9.8"/><text x="433.8" y="488.2">P56</text></g>
<g id="P57" class="n"><circle cx="470.2" cy="484" r="9.8"/><text x="470.2" y="488.2">P57</text></g>
<g id="P58" class="n"><circle cx="498.6" cy="382.8" r="9.8"/><text x="498.6" y="387">P58</text></g>
<g id="P59" class="n"><circle cx="498.6" cy="346.4" r="9.8"/><text x="498.6" y="350.6">P59</text></g>
<g id="P60" class="n"><circle cx="664.2" cy="455.6" r="9.8"/><text x="664.2" y="459.8">P60</text></g>
<g id="P61" class="n"><circle cx="664.2" cy="419.2" r="9.8"/><text x="664.2" y="423.4">P61</text></g>
<g id="P62" class="n"><circle cx="664.2" cy="346.4" r="9.8"/><text x="664.2" y="350.6">P62</text></g>
<g id="P63" class="n"><circle cx="664.2" cy="382.8" r="9.8"/><text x="664.2" y="387">P63</text></g>
<g id="P64" class="n"><circle cx="801.8" cy="484" r="9.8"/><text x="801.8" y="488.2">P64</text></g>
<g id="P65" class="n"><circle cx="765.4" cy="484" r="9.8"/><text x="765.4" y="488.2">P65</text></g>
<g id="P66" class="n"><circle cx="729" cy="484" r="9.8"/><text x="729" y="488.2">P66</text></g>
<g id="P67" class="n"><circle cx="692.6" cy="484" r="9.8"/><text x="692.6" y="488.2">P67</text></g>
<g id="P68" class="n"><circle cx="29.4" cy="649.8" r="9.8"/><text x="29.4" y="654">P68</text></g>
<g id="P69" class="n"><circle cx="65.8" cy="649.8" r="9.8"/><text x="65.8" y="654">P69</text></g>
<g id="P70" class="n"><circle cx="138.6" cy="649.8" r="9.8"/><text x="138.6" y="654">P70</text></g>
<g id="P71" class="n"><circle cx="102.2" cy="649.8" r="9.8"/><text x="102.2" y="654">P71</text></g>
<g id="P72" class="n"><circle cx="361" cy="649.8" r="9.8"/><text x="361" y="654">P72</text></g>
<g id="P73" class="n"><circle cx="397.4" cy="649.8" r="9.8"/><text x="397.4" y="654">P73</text></g>
<g id="P74" class="n"><circle cx="470.2" cy="649.8" r="9.8"/><text x="470.2" y="654">P74</text></g>
<g id="P75" class="n"><circle cx="433.8" cy="649.8" r="9.8"/><text x="433.8" y="654">P75</text></g>
<g id="P76" class="n"><circle cx="801.8" cy="649.8" r="9.8"/><text x="801.8" y="654">P76</text></g>
<g id="P77" class="n"><circle cx="765.4" cy="649.8" r="9.8"/><text x="765.4" y="654">P77</text></g>
<g id="P78" class="n"><circle cx="692.6" cy="649.8" r="9.8"/><text x="692.6" y="654">P78</text></g>
<g id="P79" class="n"><circle cx="729" cy="649.8" r="9.8"/><text x="729" y="654">P79</text></g>
<g id="P80" class="n"><circle cx="167" cy="714.6" r="9.8"/><text x="167" y="718.8">P80</text></g>
<g id="P81" class="n"><circle cx="167" cy="678.2" r="9.8"/><text x="167" y="682.4">P81</text></g>
<g id="P82" class="n"><circle cx="167" cy="787.4" r="9.8"/><text x="167" y="791.6">P82</text></g>
<g id="P83" class="n"><circle cx="167" cy="751" r="9.8"/><text x="167" y="755.2">P83</text></g>
<g id="P84" class="n"><circle cx="332.6" cy="787.4" r="9.8"/><text x="332.6" y="791.6">P84</text></g>
<g id="P85" class="n"><circle cx="332.6" cy="751" r="9.8"/><text x="332.6" y="755.2">P85</text></g>
<g id="P86" class="n"><circle cx="332.6" cy="678.2" r="9.8"/><text x="332.6" y="682.4">P86</text></g>
<g id="P87" class="n"><circle cx="332.6" cy="714.6" r="9.8"/><text x="332.6" y="718.8">P87</text></g>
<g id="P88" class="n"><circle cx="498.6" cy="787.4" r="9.8"/><text x="498.6" y="791.6">P88</text></g>
<g id="P89" class="n"><circle cx="498.6" cy="751" r="9.8"/><text x="498.6" y="755.2">P89</text></g>
<g id="P90" class="n"><circle cx="498.6" cy="714.6" r="9.8"/><text x="498.6" y="718.8">P90</text></g>
<g id="P91" class="n"><circle cx="498.6" cy="678.2" r="9.8"/><text x="498.6" y="682.4">P91</text></g>
<g id="P92" class="n"><circle cx="664.2" cy="787.4" r="9.8"/><text x="664.2" y="791.6">P92</text></g>
<g id="P93" class="n"><circle cx="664.2" cy="751" r="9.8"/><text x="664.2" y="755.2">P93</text></g>
<g id="P94" class="n"><circle cx="664.2" cy="678.2" r="9.8"/><text x="664.2" y="682.4">P94</text></g>
<g id="P95" class="n"><circle cx="664.2" cy="714.6" r="9.8"/><text x="664.2" y="718.8">P95</text></g>
</g>
</svg>
